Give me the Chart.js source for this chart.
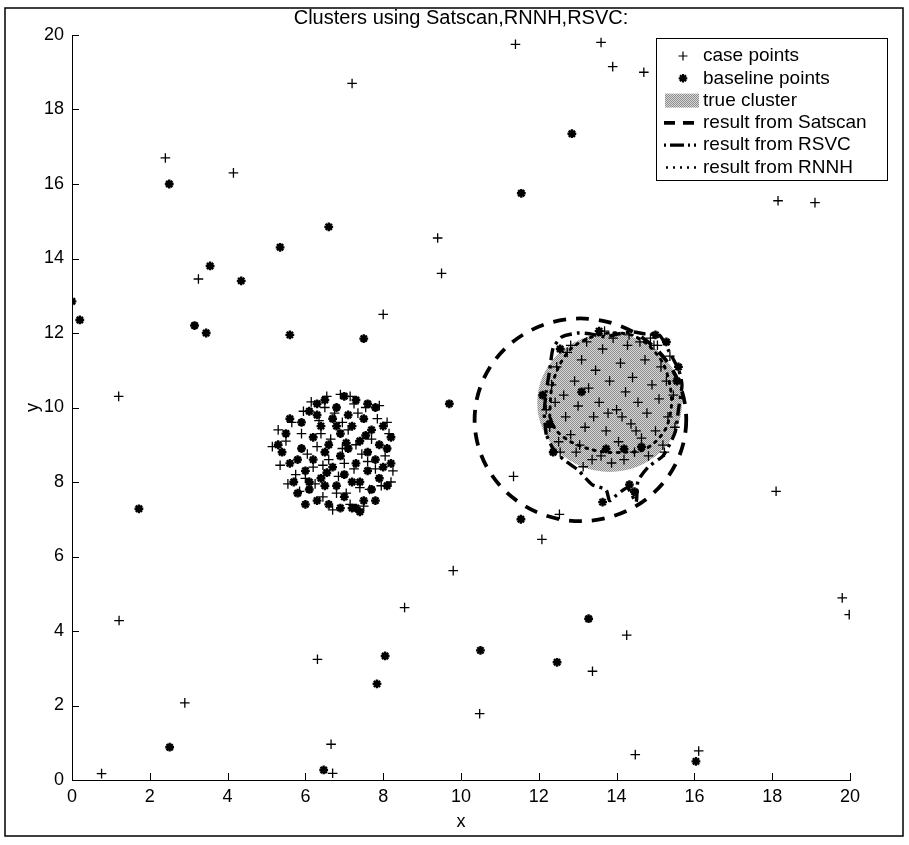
<!DOCTYPE html>
<html><head><meta charset="utf-8">
<script src="https://cdn.jsdelivr.net/npm/chart.js@4.4.1/dist/chart.umd.min.js"></script>
<style>html,body{margin:0;padding:0;background:#fff;}canvas{display:block;}</style>
</head><body>
<canvas id="c" width="909" height="845"></canvas>
<script>
const titleText = "Clusters using Satscan,RNNH,RSVC:";
const xTickValues = [0,2,4,6,8,10,12,14,16,18,20];
const yTickValues = [0,2,4,6,8,10,12,14,16,18,20];
const legendLabels = ["case points","baseline points","true cluster","result from Satscan","result from RSVC","result from RNNH"];

// isolated case points (+)
const casePoints = [[11.4,19.75],[13.6,19.8],[13.9,19.15],[14.7,19.0],[7.2,18.7],[2.4,16.7],[4.15,16.3],[9.4,14.55],[9.5,13.6],[3.25,13.45],[8.0,12.5],[1.2,10.3],[11.35,8.15],[12.53,7.13],[12.08,6.46],[9.8,5.62],[8.55,4.63],[1.21,4.28],[6.31,3.24],[14.26,3.89],[13.38,2.92],[2.9,2.07],[10.48,1.78],[6.66,0.96],[0.76,0.17],[6.7,0.18],[14.48,0.68],[16.11,0.78],[18.1,7.75],[19.8,4.89],[19.98,4.44],[18.15,15.55],[19.1,15.5]];
const caseLeftCluster = [[5.15,8.95],[5.35,8.45],[5.5,9.1],[5.65,9.6],[5.75,8.2],[5.85,7.75],[5.95,9.9],[6.05,8.75],[6.15,10.15],[6.25,7.95],[6.3,8.95],[6.4,9.3],[6.45,7.6],[6.55,10.3],[6.6,8.6],[6.7,7.25],[6.75,9.85],[6.85,8.15],[6.9,10.35],[6.95,8.9],[7.05,7.7],[7.1,9.4],[7.15,10.3],[7.25,8.35],[7.35,9.85],[7.4,7.85],[7.45,8.75],[7.55,10.0],[7.65,7.8],[7.7,9.15],[7.8,8.35],[7.85,9.7],[7.95,7.9],[8.05,8.7],[8.15,9.3],[8.25,8.3],[8.2,8.0],[6.35,9.65],[6.65,9.15],[7.0,8.5],[6.2,8.4],[7.3,9.0],[7.6,8.55],[5.9,9.3],[6.0,8.1],[6.8,7.7],[7.15,7.4],[7.5,7.35],[5.55,7.95],[6.5,10.0],[7.9,10.05],[8.1,9.6],[5.3,9.4],[6.95,9.6],[7.25,10.1],[6.45,8.45]];
const caseRightCluster = [[12.19,9.94],[12.28,9.47],[12.33,10.61],[12.46,11.09],[12.51,9.08],[12.64,10.33],[12.69,9.75],[12.73,11.48],[12.82,9.27],[12.92,10.71],[12.96,8.8],[13.01,10.04],[13.1,11.28],[13.19,9.47],[13.23,11.76],[13.28,10.52],[13.37,8.6],[13.41,9.75],[13.46,11.0],[13.55,10.14],[13.6,8.7],[13.64,11.57],[13.73,9.37],[13.82,10.71],[13.87,8.51],[13.91,11.86],[14.0,9.94],[14.05,9.08],[14.1,11.19],[14.19,8.6],[14.23,10.42],[14.28,11.67],[14.37,9.56],[14.41,10.81],[14.46,8.8],[14.55,10.14],[14.6,11.76],[14.64,9.18],[14.73,11.28],[14.78,9.85],[14.82,8.7],[14.91,10.61],[14.96,11.67],[15.0,9.37],[15.09,10.23],[15.14,11.09],[15.19,8.99],[15.28,10.71],[15.32,9.75],[15.37,11.38],[15.46,10.33],[15.5,9.47],[12.42,10.14],[12.55,8.8],[13.14,8.41],[13.69,12.05],[14.32,11.95],[14.87,11.86],[15.23,8.8],[13.78,9.85],[14.14,9.75],[13.05,8.99],[12.82,11.67],[14.5,9.37],[15.05,11.67]];

// baseline points (*)
const baselinePoints = [[12.85,17.35],[11.55,15.75],[2.5,16.0],[6.6,14.85],[5.35,14.3],[3.55,13.8],[4.35,13.4],[0.0,12.85],[0.2,12.35],[3.15,12.2],[3.45,12.0],[5.6,11.95],[7.5,11.85],[9.7,10.1],[1.72,7.28],[11.54,7.0],[13.28,4.33],[10.5,3.48],[12.47,3.16],[8.05,3.33],[7.84,2.58],[2.51,0.88],[6.47,0.27],[16.04,0.5],[14.33,7.93]];
const baselineLeftCluster = [[5.3,9.0],[5.5,9.3],[5.6,8.5],[5.7,8.0],[5.8,7.7],[5.9,9.6],[5.9,8.9],[6.0,8.3],[6.1,9.9],[6.1,7.8],[6.2,9.2],[6.2,8.6],[6.3,10.1],[6.3,7.5],[6.4,8.1],[6.4,9.5],[6.5,8.8],[6.5,10.2],[6.6,7.4],[6.6,9.0],[6.7,8.4],[6.7,9.7],[6.8,7.9],[6.8,10.0],[6.9,8.7],[6.9,9.3],[7.0,7.6],[7.0,8.2],[7.1,9.8],[7.1,8.9],[7.2,7.3],[7.2,9.5],[7.3,8.5],[7.3,10.2],[7.4,8.0],[7.4,9.1],[7.5,7.5],[7.5,9.7],[7.6,8.3],[7.6,8.8],[7.7,9.4],[7.7,7.8],[7.8,10.0],[7.8,8.6],[7.9,9.0],[7.9,8.1],[8.0,9.5],[8.0,8.4],[8.1,8.9],[8.1,7.9],[8.2,8.5],[8.2,9.2],[5.4,8.8],[5.6,9.7],[5.8,8.6],[6.0,7.4],[6.3,9.8],[6.5,7.9],[6.8,9.5],[7.0,10.3],[7.2,8.0],[7.4,7.2],[7.6,10.1],[7.8,7.5],[6.1,8.0],[6.9,7.3],[7.3,7.3],[6.55,8.25],[7.05,9.05],[7.55,9.25]];
const baselineRightCluster = [[12.28,9.56],[12.55,11.57],[12.37,8.8],[13.1,10.42],[13.73,8.89],[14.19,8.89],[14.64,8.94],[15.28,11.76],[15.55,10.71],[15.59,11.09],[12.1,10.33],[13.55,12.05],[15.0,11.95],[13.64,7.46],[14.46,7.74]];

// cluster results
const trueClusterCenter = [13.82, 10.13];
const trueClusterRadius = 1.86;
const satscanCenter = [13.07, 9.67];
const satscanRadius = 2.72;
const rsvcBoundary = [[12.19,9.27],[12.14,9.85],[12.19,10.42],[12.28,11.0],[12.37,11.6],[12.6,11.9],[13.0,12.0],[13.3,11.98],[13.7,11.9],[14.07,11.98],[14.41,12.03],[14.7,11.98],[15.1,11.94],[15.35,11.5],[15.6,11.0],[15.68,10.6],[15.59,9.94],[15.5,9.32],[15.19,8.7],[14.82,8.41],[14.55,8.03],[14.5,7.46],[14.28,7.84],[14.0,7.65],[13.82,7.5],[13.73,7.79],[13.37,7.93],[13.01,8.32],[12.64,8.6],[12.37,8.89],[12.19,9.27]];
const rnnhBoundary = [[12.28,9.75],[12.33,10.52],[12.51,11.09],[12.82,11.57],[13.28,11.86],[13.82,12.0],[14.37,11.95],[14.82,11.67],[15.19,11.19],[15.37,10.61],[15.41,10.04],[15.28,9.47],[15.0,9.08],[14.64,8.84],[14.19,8.8],[13.73,8.8],[13.28,8.89],[12.82,9.08],[12.46,9.37],[12.28,9.75]];

const FONT = "'Liberation Sans', Arial, Helvetica, sans-serif";
const toXY = a => a.map(p => ({x: p[0], y: p[1]}));

// halftone gray pattern
const pc = document.createElement('canvas'); pc.width = 2; pc.height = 2;
const pcx = pc.getContext('2d');
pcx.fillStyle = '#d8d8d8'; pcx.fillRect(0,0,2,2);
pcx.fillStyle = '#8c8c8c'; pcx.fillRect(0,0,1,1); pcx.fillRect(1,1,1,1);

function ellipsePath(ctx, chart, c, r) {
  const xs = chart.scales.x, ys = chart.scales.y;
  const cx = xs.getPixelForValue(c[0]), cy = ys.getPixelForValue(c[1]);
  const rx = Math.abs(xs.getPixelForValue(c[0] + r) - cx);
  const ry = Math.abs(ys.getPixelForValue(c[1] + r) - cy);
  ctx.beginPath(); ctx.ellipse(cx, cy, rx, ry, 0, 0, Math.PI * 2);
}

const decor = {
  id: 'decor',
  beforeDatasetsDraw(chart) {
    const ctx = chart.ctx;
    ctx.save();
    ellipsePath(ctx, chart, trueClusterCenter, trueClusterRadius);
    ctx.fillStyle = ctx.createPattern(pc, 'repeat');
    ctx.fill();
    ctx.restore();
  },
  afterDatasetsDraw(chart) {
    const ctx = chart.ctx;
    ctx.save();
    ellipsePath(ctx, chart, satscanCenter, satscanRadius);
    ctx.setLineDash([13, 10]);
    ctx.lineWidth = 3.8; ctx.strokeStyle = '#000';
    ctx.stroke();
    ctx.restore();
  },
  afterDraw(chart) {
    const ctx = chart.ctx, xs = chart.scales.x, ys = chart.scales.y;
    const a = chart.chartArea;
    ctx.save();
    ctx.strokeStyle = '#000'; ctx.lineWidth = 1;
    xTickValues.forEach(v => { const p = Math.round(xs.getPixelForValue(v)) + 0.5; ctx.beginPath(); ctx.moveTo(p, a.bottom); ctx.lineTo(p, a.bottom - 7); ctx.stroke(); });
    yTickValues.forEach(v => { const p = Math.round(ys.getPixelForValue(v)) + 0.5; ctx.beginPath(); ctx.moveTo(a.left, p); ctx.lineTo(a.left + 7, p); ctx.stroke(); });
    // title
    ctx.fillStyle = '#000'; ctx.font = '20px ' + FONT; ctx.textAlign = 'center'; ctx.textBaseline = 'middle';
    ctx.fillText(titleText, (a.left + a.right) / 2, 18);
    // outer frame
    ctx.lineWidth = 1.5; ctx.strokeRect(5, 8, 898, 828);
    // legend
    const bx = 656, by = 38, bw = 231, bh = 142;
    ctx.fillStyle = '#fff'; ctx.fillRect(bx, by, bw, bh);
    ctx.lineWidth = 1; ctx.strokeStyle = '#000'; ctx.strokeRect(bx + 0.5, by + 0.5, bw, bh);
    const rowY = i => by + 18 + i * 22.3;
    const sx0 = bx + 8, sx1 = bx + 44, sxm = bx + 27;
    ctx.font = '19px ' + FONT; ctx.textAlign = 'left'; ctx.textBaseline = 'middle'; ctx.fillStyle = '#000';
    legendLabels.forEach((t, i) => ctx.fillText(t, bx + 47, rowY(i)));
    let y = rowY(0); ctx.lineWidth = 1.2;
    ctx.beginPath(); ctx.moveTo(sxm - 4.5, y); ctx.lineTo(sxm + 4.5, y); ctx.moveTo(sxm, y - 4.5); ctx.lineTo(sxm, y + 4.5); ctx.stroke();
    y = rowY(1); ctx.lineWidth = 2.2;
    ctx.beginPath();
    for (let k = 0; k < 4; k++) { const an = k * Math.PI / 4; ctx.moveTo(sxm - 4.3 * Math.cos(an), y - 4.3 * Math.sin(an)); ctx.lineTo(sxm + 4.3 * Math.cos(an), y + 4.3 * Math.sin(an)); }
    ctx.stroke();
    y = rowY(2); ctx.fillStyle = ctx.createPattern(pc, 'repeat'); ctx.fillRect(sx0 + 1, y - 7, 34, 14);
    y = rowY(3); ctx.lineWidth = 3.8; ctx.setLineDash([11, 8]);
    ctx.beginPath(); ctx.moveTo(sx0, y); ctx.lineTo(sx1, y); ctx.stroke();
    y = rowY(4); ctx.lineWidth = 3.2; ctx.setLineDash([2, 4, 14, 4, 2, 4]);
    ctx.beginPath(); ctx.moveTo(sx0, y); ctx.lineTo(sx1, y); ctx.stroke();
    y = rowY(5); ctx.lineWidth = 2.5; ctx.setLineDash([2, 5]);
    ctx.beginPath(); ctx.moveTo(sx0 + 2, y); ctx.lineTo(sx1, y); ctx.stroke();
    ctx.restore();
  }
};

new Chart(document.getElementById('c'), {
  type: 'scatter',
  data: {
    datasets: [
      { label: legendLabels[0], data: toXY(casePoints.concat(caseLeftCluster, caseRightCluster)), pointStyle: 'cross', pointRadius: 4.8, borderColor: '#000', backgroundColor: '#000', borderWidth: 1.3 },
      { label: legendLabels[1], data: toXY(baselinePoints.concat(baselineLeftCluster, baselineRightCluster)), pointStyle: 'star', pointRadius: 4.4, borderColor: '#000', backgroundColor: '#000', borderWidth: 2.4 },
      { label: legendLabels[4], data: toXY(rsvcBoundary), showLine: true, pointRadius: 0, borderColor: '#000', borderWidth: 3.4, borderDash: [12, 5, 3, 5], tension: 0.2, fill: false },
      { label: legendLabels[5], data: toXY(rnnhBoundary), showLine: true, pointRadius: 0, borderColor: '#000', borderWidth: 3, borderDash: [2, 6], borderCapStyle: 'round', tension: 0.3, fill: false }
    ]
  },
  options: {
    responsive: false, animation: false, devicePixelRatio: 1,
    layout: { padding: { top: 35, right: 59, bottom: 0, left: 0 } },
    plugins: { legend: { display: false }, tooltip: { enabled: false }, title: { display: false } },
    scales: {
      x: {
        type: 'linear', min: 0, max: 20,
        afterBuildTicks: s => { s.ticks = xTickValues.map(v => ({ value: v })); },
        afterFit: s => { s.height = 65; },
        grid: { display: false, drawTicks: false },
        border: { display: true, color: '#000', width: 1 },
        ticks: { color: '#000', font: { family: FONT, size: 18 }, padding: 6, maxRotation: 0, autoSkip: false },
        title: { display: true, text: 'x', color: '#000', font: { family: FONT, size: 18 }, padding: { top: 0, bottom: 12 } }
      },
      y: {
        type: 'linear', min: 0, max: 20,
        afterBuildTicks: s => { s.ticks = yTickValues.map(v => ({ value: v })); },
        afterFit: s => { s.width = 72; },
        grid: { display: false, drawTicks: false },
        border: { display: true, color: '#000', width: 1 },
        ticks: { color: '#000', font: { family: FONT, size: 18 }, padding: 8, autoSkip: false },
        title: { display: true, text: 'y', color: '#000', font: { family: FONT, size: 18 }, padding: { top: 22, bottom: 0 } }
      }
    }
  },
  plugins: [decor]
});
</script>
</body></html>
